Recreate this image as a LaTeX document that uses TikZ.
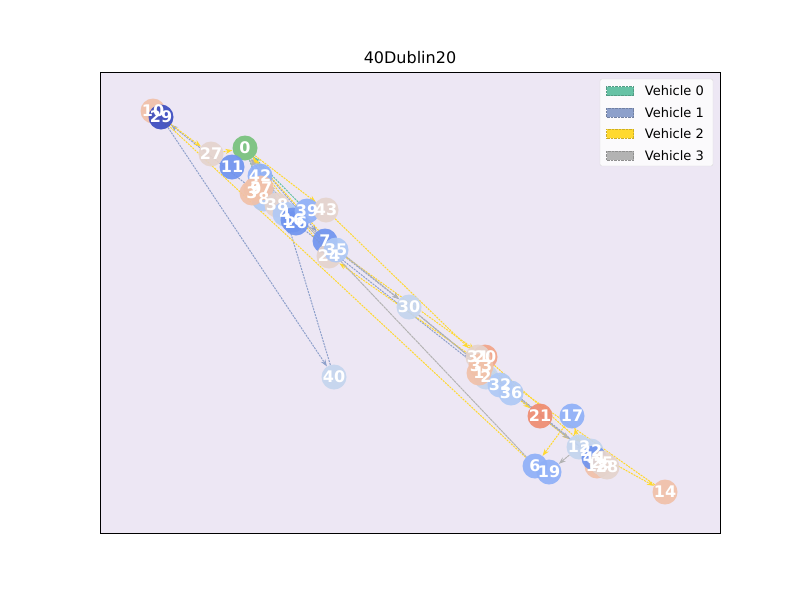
\documentclass[tikz,border=0pt]{standalone}
\usepackage{fontspec}
\setmainfont{DejaVu Sans}
\usepackage{xcolor}
\usepackage{tikz}
\usetikzlibrary{arrows.meta, positioning, backgrounds}
\definecolor{axbg}{HTML}{EDE7F4}
\definecolor{cveh0}{HTML}{66C2A5}
\definecolor{cveh1}{HTML}{8DA0CB}
\definecolor{cveh2}{HTML}{FFD92F}
\definecolor{cveh3}{HTML}{B3B3B3}
\definecolor{cgreen}{HTML}{77C27C}
\definecolor{cnavy}{HTML}{3B4CC0}
\definecolor{cblue}{HTML}{7094EF}
\definecolor{cmid}{HTML}{8FB0F8}
\definecolor{clight}{HTML}{AFC9F6}
\definecolor{cpale}{HTML}{C4D5EE}
\definecolor{cbeige}{HTML}{E5D4CD}
\definecolor{cpeach}{HTML}{F1C1A9}
\definecolor{csalmon}{HTML}{F2A488}
\definecolor{cred}{HTML}{EF8C71}
\pgfdeclarelayer{edges}
\pgfsetlayers{background,edges,main}
\tikzset{
  stop/.style={circle, fill=#1, fill opacity=0.92, draw=none, inner sep=0pt, minimum size=25pt},
  tag/.style={text=white, inner sep=0pt, font=\fontsize{16}{16}\selectfont\bfseries},
  route0/.style={-{Stealth[length=7pt,width=5pt]}, draw=cveh0, dash pattern=on 2pt off 1pt, line width=1pt},
  route1/.style={-{Stealth[length=7pt,width=5pt]}, draw=cveh1, dash pattern=on 2pt off 1pt, line width=1pt},
  route2/.style={-{Stealth[length=7pt,width=5pt]}, draw=cveh2, dash pattern=on 2pt off 1pt, line width=1pt},
  route3/.style={-{Stealth[length=7pt,width=5pt]}, draw=cveh3, dash pattern=on 2.5pt off 0.6pt, line width=1pt},
  legpatch/.style={rectangle, fill=#1, draw=#1!80!black, densely dotted, line width=0.4pt,
                   minimum width=27pt, minimum height=9pt, inner sep=0pt},
  legtext/.style={anchor=west, inner sep=0pt, font=\fontsize{13}{13}\selectfont}
}
\begin{document}
\begin{tikzpicture}[x=1pt, y=-1pt]
  \useasboundingbox (0,0) rectangle (800,600);
  \begin{pgfonlayer}{background}
    \fill[white] (0,0) rectangle (800,600);
    \draw[fill=axbg, line width=0.8pt] (100,72) rectangle (720,533);
  \end{pgfonlayer}
  \node[font=\fontsize{16}{16}\selectfont] (title) at (410,58) {40Dublin20};
  % stops
  \node[stop=cpeach] (n10) at (153,111) {};
  \node[stop=cnavy] (n29) at (161,117) {};
  \node[stop=cbeige] (n27) at (211,154) {};
  \node[stop=cgreen] (n0) at (245,148) {};
  \node[stop=cblue] (n11) at (232,167) {};
  \node[stop=clight] (n8) at (264,199) {};
  \node[stop=cmid] (n42) at (260,176) {};
  \node[stop=cpeach] (n9) at (256,189) {};
  \node[stop=cpeach] (n3) at (252,193) {};
  \node[stop=cpeach] (n37) at (261,188) {};
  \node[stop=cbeige] (n38) at (277,205) {};
  \node[stop=clight] (n4) at (285,214) {};
  \node[stop=cblue] (n16) at (293,220) {};
  \node[stop=cblue] (n26) at (296,223) {};
  \node[stop=cmid] (n39) at (307,211) {};
  \node[stop=cbeige] (n43) at (326,210) {};
  \node[stop=cblue] (n7) at (325,241) {};
  \node[stop=cbeige] (n24) at (329,256) {};
  \node[stop=clight] (n35) at (336,250) {};
  \node[stop=cpale] (n30) at (409,307) {};
  \node[stop=cpale] (n40) at (334,377) {};
  \node[stop=csalmon] (n20) at (485,357) {};
  \node[stop=cbeige] (n31) at (478,357) {};
  \node[stop=cpale] (n2) at (486,377) {};
  \node[stop=cpeach] (n33) at (481,366) {};
  \node[stop=cpeach] (n1) at (479,373) {};
  \node[stop=clight] (n32) at (500,385) {};
  \node[stop=clight] (n36) at (511,393) {};
  \node[stop=cred] (n21) at (540,416) {};
  \node[stop=cmid] (n17) at (572,416) {};
  \node[stop=cpale] (n12) at (579,447) {};
  \node[stop=cpale] (n22) at (591,451) {};
  \node[stop=cpeach] (n18) at (597,466) {};
  \node[stop=cblue] (n44) at (594,458) {};
  \node[stop=cbeige] (n25) at (602,463) {};
  \node[stop=cbeige] (n28) at (607,467) {};
  \node[stop=cmid] (n6) at (535,466) {};
  \node[stop=cmid] (n19) at (549,472) {};
  \node[stop=cpeach] (n14) at (665,492) {};
  % labels on top of all stops
  \foreach \k in {10,29,27,0,11,8,42,9,3,37,38,4,16,26,39,43,7,24,35,30,40,
                  20,31,2,33,1,32,36,21,17,12,22,18,44,25,28,6,19,14}
    \node[tag] at (n\k) {\k};
  % routes
  \begin{pgfonlayer}{edges}
    \draw[route0] (n0)--(n8); \draw[route0] (n8)--(n26);
    \draw[route0] (n26)--(n39); \draw[route0] (n39)--(n0);
    \draw[route1] (n0)--(n7); \draw[route1] (n7)--(n30);
    \draw[route1] (n30)--(n33); \draw[route1] (n33)--(n44);
    \draw[route1] (n44)--(n29); \draw[route1] (n29)--(n40);
    \draw[route1] (n40)--(n4); \draw[route1] (n4)--(n0);
    \draw[route2] (n0)--(n43); \draw[route2] (n43)--(n31);
    \draw[route2] (n31)--(n36); \draw[route2] (n36)--(n21);
    \draw[route2] (n21)--(n12); \draw[route2] (n12)--(n17);
    \draw[route2] (n17)--(n6); \draw[route2] (n6)--(n10);
    \draw[route2] (n10)--(n27); \draw[route2] (n27)--(n0);
    \draw[route2] (n0)--(n35); \draw[route2] (n35)--(n20);
    \draw[route2] (n20)--(n22); \draw[route2] (n22)--(n14);
    \draw[route2] (n14)--(n24); \draw[route2] (n24)--(n0);
    \draw[route3] (n0)--(n37); \draw[route3] (n37)--(n30);
    \draw[route3] (n30)--(n12); \draw[route3] (n12)--(n19);
    \draw[route3] (n19)--(n6); \draw[route3] (n6)--(n42);
    \draw[route3] (n42)--(n0);
  \end{pgfonlayer}
  % legend
  \node[draw=black!15, fill=white, fill opacity=0.8, rounded corners=2pt, minimum width=113pt,
        minimum height=87pt, inner sep=0pt] (legend) at (656.5,122.5) {};
  \node[legpatch=cveh0] (leg0) at (620,91) {};
  \node[legpatch=cveh1, below=12pt of leg0] (leg1) {};
  \node[legpatch=cveh2, below=12pt of leg1] (leg2) {};
  \node[legpatch=cveh3, below=12pt of leg2] (leg3) {};
  \node[legtext, right=11pt of leg0] {Vehicle 0};
  \node[legtext, right=11pt of leg1] {Vehicle 1};
  \node[legtext, right=11pt of leg2] {Vehicle 2};
  \node[legtext, right=11pt of leg3] {Vehicle 3};
\end{tikzpicture}
\end{document}
